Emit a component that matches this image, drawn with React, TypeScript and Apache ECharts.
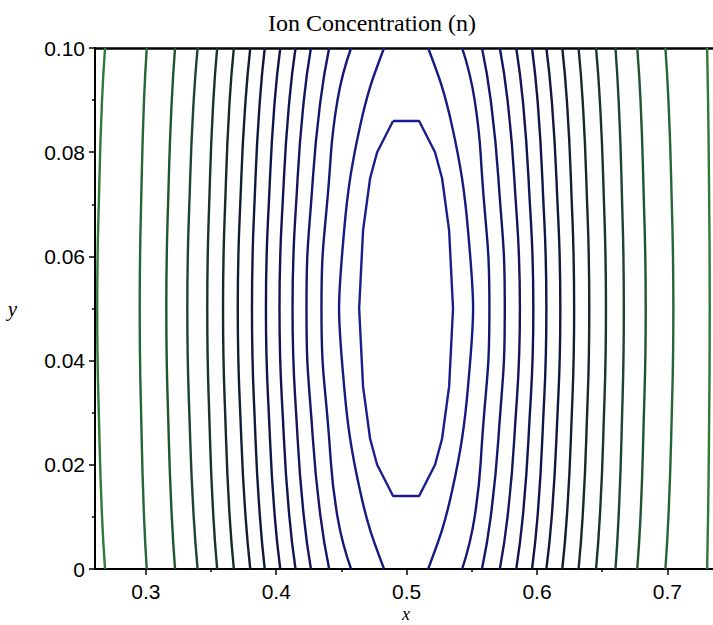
import React, { useEffect, useRef } from "react";
import * as echarts from "echarts";

const chartTitle = "Ion Concentration (n)";
const xName = "x";
const yName = "y";
const xMajorTicks = [0.3, 0.4, 0.5, 0.6, 0.7];
const xMinorTicks = [0.35, 0.45, 0.55, 0.65];

// y levels at which the side contour lines are sampled
const sideLevelsY = [0, 0.01, 0.025, 0.05, 0.075, 0.09, 0.1];

// left side contours, outermost first
const leftContoursX = [
  [0.2687, 0.2664, 0.2644, 0.2627, 0.2644, 0.2664, 0.2687],
  [0.3007, 0.2986, 0.2968, 0.2953, 0.2968, 0.2986, 0.3007],
  [0.3224, 0.3199, 0.3176, 0.3157, 0.3176, 0.3199, 0.3224],
  [0.3397, 0.3367, 0.334, 0.3318, 0.334, 0.3367, 0.3397],
  [0.3547, 0.3518, 0.3492, 0.3471, 0.3492, 0.3518, 0.3547],
  [0.3675, 0.3643, 0.3615, 0.3592, 0.3615, 0.3643, 0.3675],
  [0.3801, 0.3765, 0.3732, 0.3705, 0.3732, 0.3765, 0.3801],
  [0.3912, 0.3875, 0.3841, 0.3814, 0.3841, 0.3875, 0.3912],
  [0.4031, 0.3989, 0.3952, 0.3921, 0.3952, 0.3989, 0.4031],
  [0.4148, 0.4101, 0.4059, 0.4025, 0.4059, 0.4101, 0.4148],
  [0.4266, 0.4212, 0.4164, 0.4125, 0.4164, 0.4212, 0.4266],
  [0.4406, 0.434, 0.4281, 0.4232, 0.4281, 0.434, 0.4406],
  [0.4574, 0.447, 0.4406, 0.4347, 0.4406, 0.447, 0.4574],
];

// right side contours, outermost first
const rightContoursX = [
  [0.7305, 0.7312, 0.7319, 0.7325, 0.7319, 0.7312, 0.7305],
  [0.6985, 0.7008, 0.7029, 0.7046, 0.7029, 0.7008, 0.6985],
  [0.6769, 0.6794, 0.6815, 0.6834, 0.6815, 0.6794, 0.6769],
  [0.6602, 0.6626, 0.6648, 0.6666, 0.6648, 0.6626, 0.6602],
  [0.6453, 0.6482, 0.6508, 0.6529, 0.6508, 0.6482, 0.6453],
  [0.6319, 0.635, 0.6378, 0.6401, 0.6378, 0.635, 0.6319],
  [0.6194, 0.6229, 0.626, 0.6285, 0.626, 0.6229, 0.6194],
  [0.6072, 0.6113, 0.6149, 0.6179, 0.6149, 0.6113, 0.6072],
  [0.5962, 0.6004, 0.6041, 0.6072, 0.6041, 0.6004, 0.5962],
  [0.5841, 0.5891, 0.5935, 0.5972, 0.5935, 0.5891, 0.5841],
  [0.5715, 0.5774, 0.5826, 0.5869, 0.5826, 0.5774, 0.5715],
  [0.5578, 0.5645, 0.5704, 0.5753, 0.5704, 0.5645, 0.5578],
  [0.5426, 0.5522, 0.558, 0.5635, 0.558, 0.5522, 0.5426],
];

// open lens-shaped contour around x = 0.5
const lensLevelsY = [0, 0.0075, 0.015, 0.025, 0.035, 0.05, 0.065, 0.075, 0.085, 0.0925, 0.1];
const lensLeftX = [0.4827, 0.472, 0.4643, 0.4567, 0.4521, 0.4482, 0.4521, 0.4567, 0.4643, 0.472, 0.4827];
const lensRightX = [0.5165, 0.5272, 0.5349, 0.5425, 0.5471, 0.551, 0.5471, 0.5425, 0.5349, 0.5272, 0.5165];

// innermost closed contour
const innerLoopX = [0.4896, 0.5096, 0.5218, 0.5272, 0.5326, 0.5356, 0.5326, 0.5272, 0.5218, 0.5096, 0.4896, 0.4774, 0.472, 0.4666, 0.4636, 0.4666, 0.472, 0.4774, 0.4896];
const innerLoopY = [0.086, 0.086, 0.08, 0.075, 0.065, 0.05, 0.035, 0.025, 0.02, 0.014, 0.014, 0.02, 0.025, 0.035, 0.05, 0.065, 0.075, 0.08, 0.086];

// colour by level, outermost (green) to innermost (blue)
const levelColors = [
  "#2f7a3a", "#266636", "#1f5530", "#1b452c", "#17362b", "#142a2c", "#121f33",
  "#11193d", "#111648", "#121553", "#13155e", "#141669", "#151873", "#171a80", "#1a1d8e",
];

export default function App() {
  const ref = useRef<HTMLDivElement>(null);
  useEffect(() => {
    if (!ref.current) return;
    const chart = echarts.init(ref.current, null, { renderer: "svg" });
    const lineW = 2.4;
    const series: any[] = [];
    leftContoursX.forEach((xs, i) => {
      series.push({
        type: "line", xAxisIndex: 0, yAxisIndex: 0, symbol: "none", smooth: 0.5,
        data: xs.map((x, j) => [x, sideLevelsY[j]]),
        lineStyle: { color: levelColors[i], width: lineW },
      });
    });
    rightContoursX.forEach((xs, i) => {
      series.push({
        type: "line", xAxisIndex: 0, yAxisIndex: 0, symbol: "none", smooth: 0.5,
        data: xs.map((x, j) => [x, sideLevelsY[j]]),
        lineStyle: { color: levelColors[i], width: lineW },
      });
    });
    series.push({
      type: "line", symbol: "none", smooth: 0.3,
      data: lensLeftX.map((x, j) => [x, lensLevelsY[j]]),
      lineStyle: { color: levelColors[13], width: lineW },
    });
    series.push({
      type: "line", symbol: "none", smooth: 0.3,
      data: lensRightX.map((x, j) => [x, lensLevelsY[j]]),
      lineStyle: { color: levelColors[13], width: lineW },
    });
    series.push({
      type: "line", symbol: "none", smooth: false,
      data: innerLoopX.map((x, j) => [x, innerLoopY[j]]),
      lineStyle: { color: levelColors[14], width: lineW },
    });

    const xMin = 0.261;
    const xMax = 0.735;
    const labelFont = "Liberation Sans";

    chart.setOption({
      animation: false,
      backgroundColor: "#ffffff",
      grid: { left: 95, right: 0, top: 48, bottom: 56, containLabel: false, outerBoundsMode: "none" },
      graphic: [
        {
          type: "text", x: 372, y: 23,
          style: {
            text: chartTitle, fill: "#000", textAlign: "center", textVerticalAlign: "middle",
            font: '24px "Liberation Serif"',
          },
        },
        {
          type: "text", x: 406, y: 614,
          style: {
            text: xName, fill: "#000", textAlign: "center", textVerticalAlign: "middle",
            font: 'italic 18px "Liberation Serif"',
          },
        },
      ],
      xAxis: [
        {
          type: "value", position: "bottom", min: xMin, max: xMax,
          axisLine: { show: true, onZero: false, lineStyle: { color: "#000", width: 2 } },
          axisTick: { show: true, customValues: xMajorTicks, length: 6, lineStyle: { color: "#000", width: 1.5 } },
          axisLabel: {
            customValues: xMajorTicks, color: "#000", fontSize: 21, fontFamily: labelFont, margin: 12,
            formatter: (v: number) => v.toFixed(1),
          },
          splitLine: { show: false },
        },
        {
          type: "value", position: "bottom", min: xMin, max: xMax,
          axisLine: { show: false },
          axisTick: { show: true, customValues: xMinorTicks, length: 3, lineStyle: { color: "#000", width: 1.5 } },
          axisLabel: { show: false },
          splitLine: { show: false },
        },
        {
          type: "value", position: "top", min: xMin, max: xMax,
          axisLine: { show: true, onZero: false, lineStyle: { color: "#000", width: 2.5 } },
          axisTick: { show: false },
          axisLabel: { show: false },
          splitLine: { show: false },
        },
      ],
      yAxis: {
        type: "value", min: 0, max: 0.1, interval: 0.02,
        axisLine: { show: true, onZero: false, lineStyle: { color: "#000", width: 2 } },
        axisTick: { show: true, length: 6, lineStyle: { color: "#000", width: 1.5 } },
        minorTick: { show: true, splitNumber: 2, length: 3, lineStyle: { color: "#000", width: 1.5 } },
        splitLine: { show: false },
        minorSplitLine: { show: false },
        axisLabel: {
          color: "#000", fontSize: 21, fontFamily: labelFont, margin: 10,
          formatter: (v: number) => (v === 0 ? "0" : v.toFixed(2)),
        },
        name: yName, nameLocation: "middle", nameGap: 78, nameRotate: 0,
        nameTextStyle: { fontFamily: "Liberation Serif", fontStyle: "italic", fontSize: 21, color: "#000" },
      },
      series,
    });
    return () => chart.dispose();
  }, []);
  return <div ref={ref} style={{ width: 713, height: 625, position: "absolute", left: 0, top: 0 }} />;
}
